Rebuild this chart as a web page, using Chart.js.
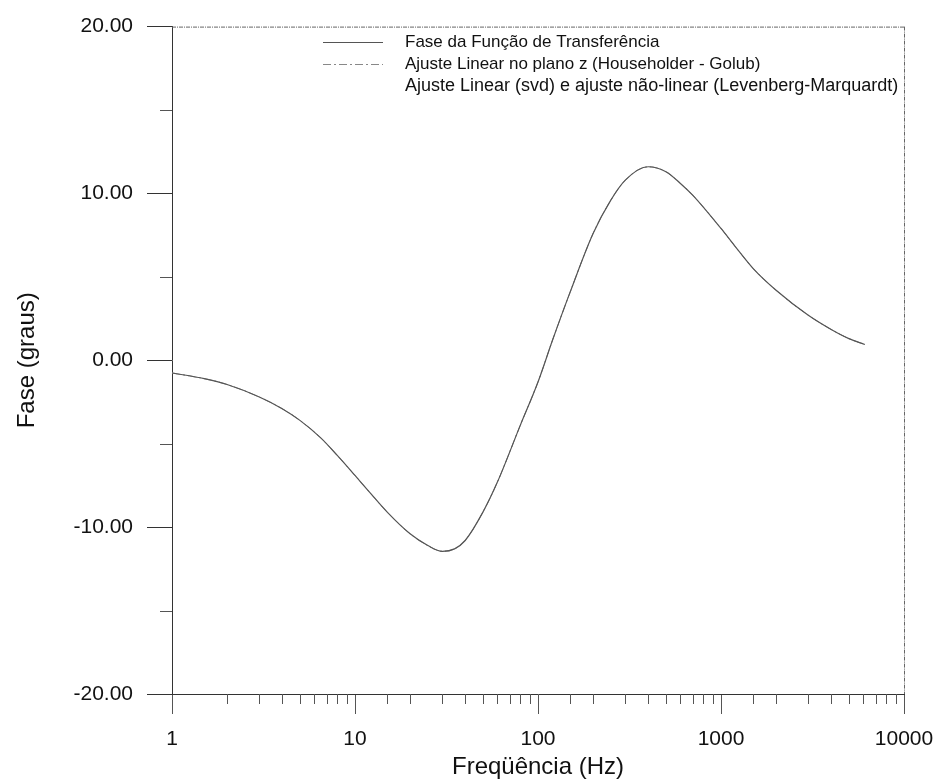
<!DOCTYPE html>
<html lang="pt">
<head>
<meta charset="utf-8">
<title>Fase da Função de Transferência</title>
<script src="https://cdn.jsdelivr.net/npm/chart.js@4/dist/chart.umd.min.js"></script>
<style>
    body { margin: 0; background: #ffffff; }
    #wrap { width: 940px; height: 782px; position: relative; }
</style>
</head>
<body>
<div id="wrap"><canvas id="faseChart"></canvas></div>
<script>
// グラフのデータ
const freqs = [1, 1.5, 2, 3, 4, 5, 6.5, 8, 10, 12, 15, 20, 25, 30, 35, 40, 50, 60, 80, 100,
    120, 150, 200, 250, 300, 400, 500, 600, 700, 1000, 1200, 1500, 2000, 3000, 4000, 5000, 6100];
const faseTransferencia = [-0.76, -1.1, -1.45, -2.2, -2.9, -3.6, -4.65, -5.7, -6.9, -7.9, -9.1, -10.4, -11.1, -11.45, -11.3, -10.8, -9.1, -7.3, -3.9, -1.3,
    1.2, 4.1, 7.6, 9.6, 10.8, 11.6, 11.3, 10.6, 9.9, 7.9, 6.8, 5.5, 4.2, 2.7, 1.85, 1.3, 0.95];
const ajusteHouseholder = [-0.76, -1.1, -1.45, -2.2, -2.9, -3.6, -4.65, -5.7, -6.9, -7.9, -9.1, -10.4, -11.1, -11.45, -11.3, -10.8, -9.1, -7.3, -3.9, -1.3,
    1.2, 4.1, 7.6, 9.6, 10.8, 11.6, 11.3, 10.6, 9.9, 7.9, 6.8, 5.5, 4.2, 2.7, 1.85, 1.3, 0.95];
const ajusteSvdLM = [-0.76, -1.1, -1.45, -2.2, -2.9, -3.6, -4.65, -5.7, -6.9, -7.9, -9.1, -10.4, -11.1, -11.45, -11.3, -10.8, -9.1, -7.3, -3.9, -1.3,
    1.2, 4.1, 7.6, 9.6, 10.8, 11.6, 11.3, 10.6, 9.9, 7.9, 6.8, 5.5, 4.2, 2.7, 1.85, 1.3, 0.95];
const seriesLabels = [
    'Fase da Função de Transferência',
    'Ajuste Linear no plano z (Householder - Golub)',
    'Ajuste Linear (svd) e ajuste não-linear (Levenberg-Marquardt)'
];
const xTickLabels = [1, 10, 100, 1000, 10000];
const yTickLabels = [-20, -10, 0, 10, 20];

const fontFamily = '"Liberation Sans", Arial, sans-serif';

// x と y を組み合わせて点の配列を作る関数
function toPoints(values) {
    return freqs.map((f, i) => ({ x: f, y: values[i] }));
}

// 副目盛りと凡例、枠線を描くプラグイン
const decorPlugin = {
    id: 'decor',
    afterDraw(chart) {
        const ctx = chart.ctx;
        const area = chart.chartArea;
        const xScale = chart.scales.x;
        const yScale = chart.scales.y;
        ctx.save();

        // 上と右の枠線（スキャン風の点線）
        ctx.strokeStyle = '#666';
        ctx.lineWidth = 1;
        ctx.setLineDash([4, 1, 1, 1]);
        ctx.beginPath();
        ctx.moveTo(area.left, area.top + 0.5);
        ctx.lineTo(area.right, area.top + 0.5);
        ctx.moveTo(area.right + 0.5, area.top);
        ctx.lineTo(area.right + 0.5, area.bottom);
        ctx.stroke();
        ctx.setLineDash([]);

        // x 軸の副目盛り（2〜9）
        ctx.strokeStyle = '#555';
        ctx.beginPath();
        xScale.ticks.forEach(t => {
            if (xTickLabels.includes(t.value)) return;
            const px = Math.round(xScale.getPixelForValue(t.value)) + 0.5;
            ctx.moveTo(px, area.bottom);
            ctx.lineTo(px, area.bottom + 10);
        });
        // y 軸の副目盛り（5 の倍数）
        yScale.ticks.forEach(t => {
            if (yTickLabels.includes(t.value)) return;
            const py = Math.round(yScale.getPixelForValue(t.value)) + 0.5;
            ctx.moveTo(area.left - 12, py);
            ctx.lineTo(area.left, py);
        });
        ctx.stroke();

        // 凡例を描画（3 番目は線の見本なし）
        ctx.textBaseline = 'middle';
        ctx.textAlign = 'left';
        ctx.fillStyle = '#111';
        chart.data.datasets.forEach((ds, i) => {
            const y = 42 + i * 22;
            if (i < 2) {
                ctx.strokeStyle = ds.borderColor;
                ctx.lineWidth = 1;
                ctx.setLineDash(ds.borderDash || []);
                ctx.beginPath();
                ctx.moveTo(323, y + 0.5);
                ctx.lineTo(383, y + 0.5);
                ctx.stroke();
                ctx.setLineDash([]);
            }
            ctx.font = (i < 2 ? '17px ' : '18px ') + fontFamily;
            ctx.fillText(ds.label, 405, y);
        });
        ctx.restore();
    }
};

const canvas = document.getElementById('faseChart');
const faseChart = new Chart(canvas.getContext('2d'), {
    type: 'line',
    data: {
        datasets: [
            {
                label: seriesLabels[0],
                data: toPoints(faseTransferencia),
                borderColor: '#555',
                borderWidth: 1.2,
                pointRadius: 0,
                cubicInterpolationMode: 'monotone'
            },
            {
                label: seriesLabels[1],
                data: toPoints(ajusteHouseholder),
                borderColor: '#888',
                borderWidth: 1,
                borderDash: [8, 3, 2, 3],
                pointRadius: 0,
                cubicInterpolationMode: 'monotone'
            },
            {
                label: seriesLabels[2],
                data: toPoints(ajusteSvdLM),
                borderColor: '#aaa',
                borderWidth: 1,
                borderDash: [1, 3],
                pointRadius: 0,
                cubicInterpolationMode: 'monotone'
            }
        ]
    },
    options: {
        responsive: true,
        maintainAspectRatio: false,
        animation: false,
        layout: { padding: { top: 24, right: 36, left: 0, bottom: 0 } },
        plugins: {
            legend: { display: false },
            tooltip: { enabled: false }
        },
        scales: {
            x: {
                type: 'logarithmic',
                min: 1,
                max: 10000,
                afterFit: scale => {
                    scale.height = 88;
                    scale.paddingLeft = 0;   // ラベルのはみ出しで描画領域を縮めない
                    scale.paddingRight = 0;
                },
                border: { display: true, color: '#333', width: 1 },
                grid: {
                    drawOnChartArea: false,
                    drawTicks: true,
                    tickLength: 20,
                    tickColor: c => (c.tick && xTickLabels.includes(c.tick.value)) ? '#555' : 'rgba(0,0,0,0)'
                },
                ticks: {
                    autoSkip: false,
                    maxRotation: 0,
                    padding: 13,
                    color: '#111',
                    font: { family: fontFamily, size: 21 },
                    callback: v => xTickLabels.includes(v) ? String(v) : ''
                },
                title: {
                    display: true,
                    text: 'Freqüência (Hz)',
                    color: '#111',
                    font: { family: fontFamily, size: 24 },
                    padding: { top: 0, bottom: 0 }
                }
            },
            y: {
                min: -20,
                max: 20,
                afterFit: scale => { scale.width = 172; },
                border: { display: true, color: '#333', width: 1 },
                grid: {
                    drawOnChartArea: false,
                    drawTicks: true,
                    tickLength: 25,
                    tickColor: c => (c.tick && yTickLabels.includes(c.tick.value)) ? '#333' : 'rgba(0,0,0,0)'
                },
                ticks: {
                    stepSize: 5,
                    padding: 14,
                    color: '#111',
                    font: { family: fontFamily, size: 21 },
                    callback: v => yTickLabels.includes(v) ? v.toFixed(2) : ''
                },
                title: {
                    display: true,
                    text: 'Fase (graus)',
                    color: '#111',
                    font: { family: fontFamily, size: 24 },
                    padding: { top: 13, bottom: 0 }
                }
            }
        }
    },
    plugins: [decorPlugin]
});
</script>
</body>
</html>
